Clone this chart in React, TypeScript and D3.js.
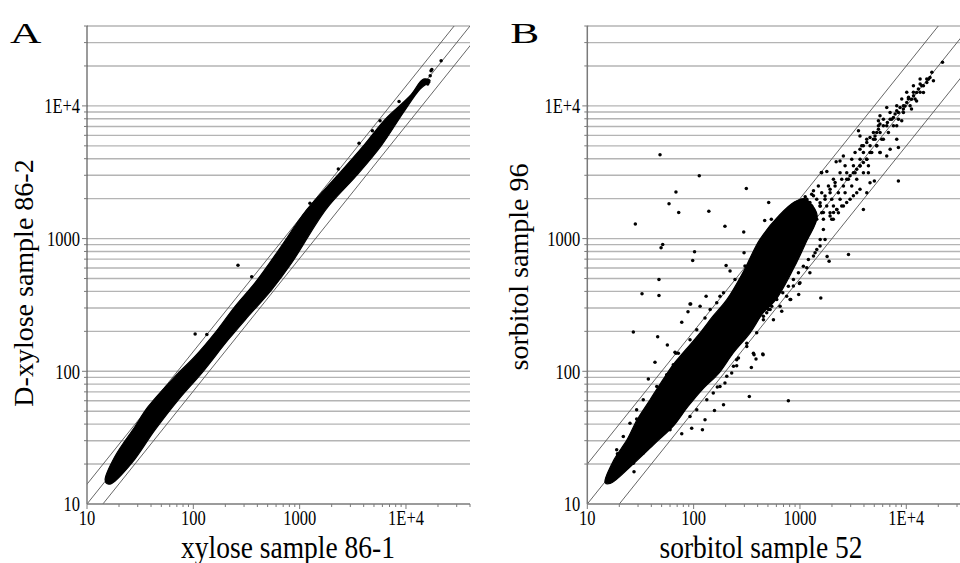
import React from "react";
import * as d3 from "d3";

const W = 960;
const H = 563;
const TOP = 26;
const PLOT_W = 383;
const PLOT_H = 478;
const DOMAIN: [number, number] = [10, 40000];
const SERIF = "'Liberation Serif', 'Times New Roman', serif";

const majorTicks = [10, 100, 1000, 10000];
const majorLabels = ["10", "100", "1000", "1E+4"];

// fold-change guide lines around y = x
const foldA = 1.41;
const foldB = 2;

// Panel A: the solid band, traced along its upper-left and lower-right edges
const bandAUpper = [
  [14.8, 15.2], [18.3, 22.8], [28.3, 38.4], [37.7, 54.3], [67.3, 91.5], [104, 130],
  [160, 195], [247, 309], [380, 464], [609, 782], [1167, 1650], [2234, 2950],
  [3975, 5000], [6400, 7950], [10940, 11920], [14590, 15920],
];
const bandALower = [
  [15.5, 14.2], [17.1, 14.3], [26.3, 20.3], [43.6, 36.2], [72.3, 61], [120, 97], [213, 173],
  [329, 260], [547, 413], [843, 658], [1770, 1663], [3400, 2966], [5840, 5000],
  [9460, 8930], [13580, 13400], [16870, 15490],
];
const pointsA = [
  [263, 631], [104, 191], [134, 189], [354, 515], [21400, 21900], [17200, 18400],
  [16300, 15100], [8610, 10800], [5700, 7730], [4830, 6490], [3620, 5240], [2310, 3340],
  [1250, 1850], [1350, 1810], [16000, 14600], [16900, 16900], [17500, 18800],
];

// Panel B: dense core outline
const coreBUpper = [
  [14.7, 14.5], [17.8, 21.5], [23.6, 30.4], [29.4, 43.1], [38.9, 61], [51.5, 86.5],
  [64, 112], [84.7, 146], [115, 195], [152, 260], [206, 348], [290, 552], [420, 986],
  [640, 1500], [900, 1900], [1100, 2000],
];
const coreBLower = [
  [16.4, 14.3], [27.5, 20.3], [43.4, 28.7], [64, 38.4], [88.5, 54.3], [120, 72.6],
  [173, 97], [235, 137], [340, 195], [450, 275], [596, 348], [830, 552], [1150, 950],
  [1450, 1500],
];
// scattered genes and outliers
const pointsB = [
  [21900, 21300], [17400, 17900], [16700, 16400], [15600, 15000], [14500, 14200], [13500, 14600],
  [13000, 13400], [12500, 12600], [11700, 11900], [11200, 11200], [10500, 11600], [10100, 10600],
  [9730, 10000], [9390, 9460], [8740, 9730], [8130, 9180], [7850, 8670], [7570, 8180],
  [7050, 7940], [6550, 9730], [6640, 7500], [6090, 7080], [5660, 7290], [5470, 6680],
  [5270, 6310], [5080, 5940], [4910, 5610], [4560, 5780], [4250, 5300], [3950, 5000],
  [3670, 4720], [3550, 6490], [5660, 8410], [5470, 7730], [8130, 5610], [8430, 4850],
  [7050, 4720], [6550, 4200], [5660, 4450], [4560, 4450], [4250, 3960], [3950, 3740],
  [3670, 3530], [3420, 3330], [3180, 3140], [2960, 2970], [2750, 2800], [2560, 4200],
  [2380, 3850], [4400, 3140], [4560, 2640], [5010, 2720], [3670, 2350], [3420, 2220],
  [3180, 2100], [2960, 1980], [2750, 1870], [2470, 1760], [2220, 1660], [2070, 1570],
  [1920, 1480], [1660, 1570], [1550, 1760], [1600, 3140], [1490, 2490], [1340, 2100],
  [1240, 1870], [1160, 1980], [1120, 1760], [1000, 1570], [967, 1400], [3950, 1660],
  [4250, 2220], [8430, 2720], [3670, 5940], [5270, 5000], [6090, 5610], [8130, 7080],
  [9060, 7730], [11200, 9460], [12500, 10900], [14500, 12600], [16100, 15900], [18000, 15500],
  [48.3, 4280], [113, 2970], [68.2, 2240], [313, 2380], [58.7, 1830], [72.4, 1570],
  [139, 1610], [508, 1870], [28.3, 1290], [197, 1240], [296, 1120], [466, 1370],
  [538, 1400], [51.2, 904], [49.4, 853], [102, 796], [98, 684], [47.2, 492],
  [32.7, 384], [47.2, 372], [93.8, 322], [115, 309], [88.5, 281], [131, 368],
  [202, 628], [220, 569], [298, 782], [392, 828], [177, 368], [191, 390],
  [1570, 357], [1880, 676], [1800, 734], [973, 379], [807, 348], [1160, 603], [1000, 464],
  [2860, 760],
  [1590, 3150], [1790, 3200], [2190, 3790], [1120, 2070], [1290, 2160], [698, 1360],
  [778, 1280], [640, 1040], [477, 869], [351, 658], [304, 621], [245, 492], [264, 451],
  [933, 1610], [1000, 1760], [1200, 1870], [1340, 2290],
  [1550, 986], [1660, 1170], [2060, 1400], [2220, 1660], [1440, 828], [1340, 738],
  [1240, 552], [867, 439], [750, 368], [650, 309],
  [27.1, 198], [45.9, 182], [56.6, 158], [77.3, 234], [92.5, 322], [43.3, 117],
  [37.5, 87.5], [66.8, 139], [29.1, 43.7], [27.5, 17.5], [19.2, 23.9], [68.2, 137],
  [818, 348], [988, 459], [370, 133], [450, 133], [386, 124], [349, 107], [334, 64.7],
  [778, 60], [254, 110], [191, 56], [157, 50.7], [128, 43.1], [121, 36.2], [77.3, 33.8],
  [95.9, 37.2], [167, 76], [197, 81.5], [228, 97], [264, 126], [316, 163], [392, 195],
  [563, 245], [674, 284], [365, 137], [447, 135],
  [55.8, 94.2], [64.4, 112], [71.8, 137], [92.5, 173], [107, 206], [128, 252], [143, 292],
  [165, 328], [33.6, 61], [29.1, 51.3], [25.2, 40.6], [21.8, 32.3], [18.9, 25.6], [45, 76.9],
  [50.1, 33.2], [60, 36.2], [92.5, 45.7], [107, 51.3], [133, 61.1], [153, 68.5], [177, 76.9],
  [205, 91.6], [237, 109], [254, 122], [316, 154], [453, 245], [524, 292], [33.6, 24.2],
  [27.1, 20.3],
];
// denser cloud above the core, 1000 - 16000
const cloudB = [
  [1039, 1397], [1245, 1397], [1438, 1397], [1661, 1397], [1991, 1397],
  [1158, 1567], [1387, 1567], [1602, 1567], [1920, 1567], [2299, 1567],
  [1290, 1762], [1546, 1762], [1786, 1762], [2064, 1762], [2563, 1762],
  [1438, 1977], [1722, 1977], [1991, 1977], [2384, 1977],
  [1602, 2218], [1920, 2218], [2299, 2218], [2657, 2218],
  [1852, 2494], [2140, 2494], [2563, 2494], [3069, 2494],
  [2064, 2798], [2472, 2798], [2855, 2798], [3420, 2798],
  [2384, 3140], [2754, 3140], [3299, 3140], [3952, 3140],
  [2657, 3532], [3183, 3532], [3676, 3532], [4404, 3532],
  [3069, 3963], [3676, 3963], [4247, 3963],
  [3299, 4457], [3952, 4457], [4733, 4457], [5669, 4457],
  [3812, 5000], [4565, 5000], [5275, 5000],
  [4247, 5610], [5087, 5610], [5878, 5610],
  [4907, 6310], [5669, 6310], [6791, 6310],
  [5469, 7080], [6549, 7080], [7567, 7080],
  [6094, 7943], [7300, 7943], [8433, 7943],
  [7040, 8930], [8433, 8930], [9397, 8930],
  [8134, 10020], [9397, 10020], [10860, 10020],
  [9065, 11250], [10470, 11250], [12100, 11250],
  [10100, 12650], [11670, 12650], [13490, 12650],
  [11670, 14190], [13980, 14190],
  [13490, 15920], [15580, 15920],
  // fringe along the core edges
  [316, 492], [352, 552], [273, 438], [421, 620], [487, 738], [543, 829], [605, 986],
  [699, 1107], [751, 1243], [868, 1396], [967, 1568], [1039, 1661], [339, 390], [392, 464],
  [453, 521], [563, 657], [650, 782], [751, 930], [868, 1045], [1002, 1243], [1158, 1396],
  [1338, 1661], [1546, 1866], [1722, 2096], [1920, 2353], [2140, 2642],
  [487, 276], [543, 309], [605, 347], [689, 390], [778, 438], [868, 492], [967, 552],
  [1077, 620], [1200, 697], [1387, 782], [1546, 878], [1722, 986], [453, 260], [505, 292],
];

type Pt = number[];

function Panel({ id, left, letter, xTitle, yTitle, yTitleX, yTitleY, xTitleX, fold, upper, lower, points }: {
  id: string; left: number; letter: string; xTitle: string; yTitle: string;
  yTitleX: number; yTitleY: number; xTitleX: number; fold: number;
  upper: Pt[]; lower: Pt[]; points: Pt[];
}) {
  const x = d3.scaleLog().domain(DOMAIN).range([0, PLOT_W]);
  const y = d3.scaleLog().domain(DOMAIN).range([PLOT_H, 0]);
  const minor = y.ticks().filter(v => v > 10);
  const xMinor = x.ticks();

  const outline = d3.line<Pt>().x(d => x(d[0])).y(d => y(d[1]));
  const smooth = d3.line<Pt>().x(d => x(d[0])).y(d => y(d[1])).curve(d3.curveCatmullRomClosed);
  const bandPath = smooth([...upper, ...lower.slice().reverse()]) ?? "";

  const guides = [1 / fold, 1, fold].map(f =>
    outline([[DOMAIN[0] / 4, (DOMAIN[0] / 4) * f], [DOMAIN[1] * 4, DOMAIN[1] * 4 * f]])
  );

  return (
    <g>
      <text
        transform={`translate(${left - 77},43) scale(1.45,1)`}
        fontFamily={SERIF} fontSize={30}
      >{letter}</text>
      <text
        transform={`translate(${yTitleX},${yTitleY}) rotate(-90)`}
        textAnchor="middle" fontFamily={SERIF} fontSize={28}
      >{yTitle}</text>
      <text
        transform={`translate(${xTitleX},558) scale(1,1.15)`}
        textAnchor="middle" fontFamily={SERIF} fontSize={27.5}
      >{xTitle}</text>

      <g transform={`translate(${left},${TOP})`}>
        <clipPath id={`clip-${id}`}>
          <rect x={0} y={0} width={PLOT_W} height={PLOT_H} />
        </clipPath>

        {minor.map(v => (
          <line key={`g${v}`} x1={0} x2={PLOT_W} y1={y(v)} y2={y(v)}
            stroke="#b4b4b4" strokeWidth={1.4} />
        ))}

        <g clipPath={`url(#clip-${id})`}>
          {guides.map((d, i) => (
            <path key={i} d={d ?? ""} fill="none" stroke="#555" strokeWidth={0.9} />
          ))}
          <path d={bandPath} fill="#000" stroke="#000" strokeWidth={1.2} strokeLinejoin="round" />
          {points.map((d, i) => (
            <circle key={i} cx={x(d[0])} cy={y(d[1])} r={1.75} fill="#000" />
          ))}
        </g>

        <line x1={0} x2={0} y1={0} y2={PLOT_H} stroke="#7a7a7a" strokeWidth={1.5} />
        <line x1={0} x2={PLOT_W} y1={PLOT_H} y2={PLOT_H} stroke="#7a7a7a" strokeWidth={1.5} />

        {minor.map(v => (
          <line key={`yt${v}`} x1={majorTicks.includes(v) ? -5 : -3} x2={1} y1={y(v)} y2={y(v)}
            stroke="#7a7a7a" strokeWidth={1} />
        ))}
        {xMinor.map(v => (
          <line key={`xt${v}`} x1={x(v)} x2={x(v)} y1={PLOT_H}
            y2={PLOT_H + (majorTicks.includes(v) ? 5 : 3)} stroke="#7a7a7a" strokeWidth={1} />
        ))}

        {majorTicks.map((v, i) => (
          <text key={`yl${v}`}
            transform={`translate(-7,${y(v)}) scale(1,1.25)`}
            dy="0.35em" textAnchor="end" fontFamily={SERIF} fontSize={16.5}
          >{majorLabels[i]}</text>
        ))}
        {majorTicks.map((v, i) => (
          <text key={`xl${v}`}
            transform={`translate(${x(v)},${PLOT_H + 21}) scale(1,1.25)`}
            textAnchor="middle" fontFamily={SERIF} fontSize={16.5}
          >{majorLabels[i]}</text>
        ))}
      </g>
    </g>
  );
}

export default function App() {
  return (
    <svg width={W} height={H} style={{ position: "absolute", left: 0, top: 0, background: "#fff" }}>
      <rect width={W} height={H} fill="#fff" />
      <Panel id="a" left={87} letter="A" fold={foldA}
        xTitle="xylose sample 86-1" yTitle="D-xylose sample 86-2"
        xTitleX={288} yTitleX={33} yTitleY={283}
        upper={bandAUpper} lower={bandALower} points={pointsA} />
      <Panel id="b" left={587.3} letter="B" fold={foldB}
        xTitle="sorbitol sample 52" yTitle="sorbitol sample 96"
        xTitleX={761} yTitleX={528} yTitleY={267}
        upper={coreBUpper} lower={coreBLower} points={[...pointsB, ...cloudB]} />
    </svg>
  );
}
